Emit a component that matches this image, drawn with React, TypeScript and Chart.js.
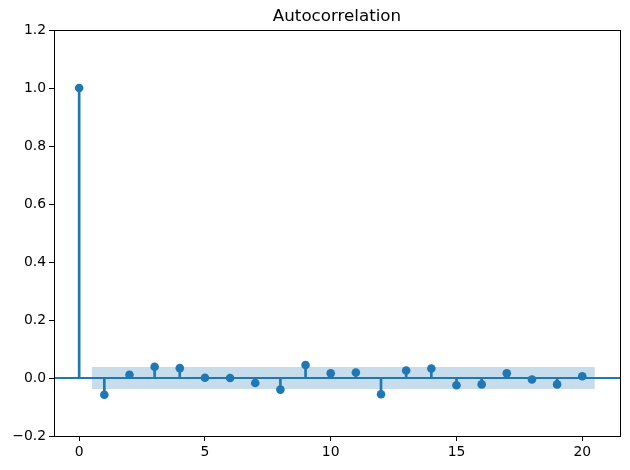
import React, { useEffect, useRef } from "react";
import { Chart, registerables } from "chart.js";

Chart.register(...registerables);

const chartTitle = "Autocorrelation";
const lags = [0, 1, 2, 3, 4, 5, 6, 7, 8, 9, 10, 11, 12, 13, 14, 15, 16, 17, 18, 19, 20];
const acfValues = [
  1.0, -0.058, 0.011, 0.039, 0.034, 0.001, 0.0, -0.017, -0.04, 0.045, 0.016,
  0.019, -0.056, 0.026, 0.033, -0.025, -0.022, 0.016, -0.005, -0.022, 0.006,
];
const bandX = [0.5, 20.5];
const bandUpper = [0.038, 0.038];
const bandLower = [-0.038, -0.038];
const xLimits = [-1, 21.5];
const yLimits = [-0.2, 1.2];
const xTicks = [0, 5, 10, 15, 20];
const yTicks = [-0.2, 0.0, 0.2, 0.4, 0.6, 0.8, 1.0, 1.2];

const C0 = "#1f77b4";
const FONT = "'DejaVu Sans', sans-serif";

const framePlugin = {
  id: "frame",
  afterDatasetsDraw(chart: any) {
    const { ctx, chartArea } = chart;
    ctx.save();
    ctx.strokeStyle = "#000";
    ctx.lineWidth = 1;
    ctx.strokeRect(
      Math.round(chartArea.left) + 0.5,
      Math.round(chartArea.top) + 0.5,
      Math.round(chartArea.right - chartArea.left),
      Math.round(chartArea.bottom - chartArea.top)
    );
    ctx.restore();
  },
};

export default function App() {
  const ref = useRef<HTMLCanvasElement | null>(null);
  useEffect(() => {
    document.body.style.margin = "0";
    if (!ref.current) return;
    const chart = new Chart(ref.current, {
      type: "bar",
      data: {
        datasets: [
          {
            type: "line",
            data: bandX.map((x, i) => ({ x, y: bandUpper[i] })),
            borderWidth: 0,
            pointRadius: 0,
            fill: "+1",
            backgroundColor: "rgba(31,119,180,0.25)",
            order: 5,
          } as any,
          {
            type: "line",
            data: bandX.map((x, i) => ({ x, y: bandLower[i] })),
            borderWidth: 0,
            pointRadius: 0,
            fill: false,
            order: 6,
          } as any,
          {
            type: "line",
            data: [
              { x: xLimits[0], y: 0 },
              { x: xLimits[1], y: 0 },
            ],
            borderColor: C0,
            borderWidth: 2,
            pointRadius: 0,
            fill: false,
            order: 3,
          } as any,
          {
            type: "bar",
            data: lags.map((l, i) => ({ x: l, y: [0, acfValues[i]] })),
            backgroundColor: C0,
            borderWidth: 0,
            barThickness: 2,
            order: 2,
          } as any,
          {
            type: "scatter",
            data: lags.map((l, i) => ({ x: l, y: acfValues[i] })),
            backgroundColor: C0,
            borderWidth: 0,
            pointRadius: 4.3,
            order: 1,
          } as any,
        ],
      },
      options: {
        responsive: false,
        animation: false,
        layout: { padding: { left: 0, right: 10, top: 0, bottom: 0 } },
        plugins: {
          legend: { display: false },
          tooltip: { enabled: false },
          title: {
            display: true,
            text: chartTitle,
            fullSize: false,
            color: "#000",
            font: { family: FONT, size: 16.7, weight: "normal", lineHeight: 1.2 },
            padding: { top: 7, bottom: 3 },
          },
        },
        scales: {
          x: {
            type: "linear",
            min: xLimits[0],
            max: xLimits[1],
            offset: false,
            border: { display: false },
            grid: {
              display: true,
              offset: false,
              drawOnChartArea: false,
              drawTicks: true,
              tickLength: 5,
              color: "#000",
              lineWidth: 1,
            },
            afterBuildTicks: (scale: any) => {
              scale.ticks = xTicks.map((v) => ({ value: v }));
            },
            afterFit: (scale: any) => {
              scale.height = 34;
            },
            ticks: {
              color: "#000",
              font: { family: FONT, size: 13.9 },
              padding: 3,
              maxRotation: 0,
              callback: (v: any) => String(v),
            },
          },
          y: {
            type: "linear",
            min: yLimits[0],
            max: yLimits[1],
            border: { display: false },
            grid: {
              display: true,
              offset: false,
              drawOnChartArea: false,
              drawTicks: true,
              tickLength: 5,
              color: "#000",
              lineWidth: 1,
            },
            afterBuildTicks: (scale: any) => {
              scale.ticks = yTicks.map((v) => ({ value: v }));
            },
            afterFit: (scale: any) => {
              scale.width = 54;
            },
            ticks: {
              color: "#000",
              font: { family: FONT, size: 13.9 },
              padding: 3,
              callback: (v: any) => {
                const n = Number(v);
                const s = Math.abs(n).toFixed(1);
                return n < -1e-9 ? "\u2212" + s : s;
              },
            },
          },
        },
      },
      plugins: [framePlugin],
    } as any);
    return () => chart.destroy();
  }, []);
  return (
    <div style={{ width: 630, height: 470, background: "#fff" }}>
      <canvas ref={ref} width={630} height={470} />
    </div>
  );
}
